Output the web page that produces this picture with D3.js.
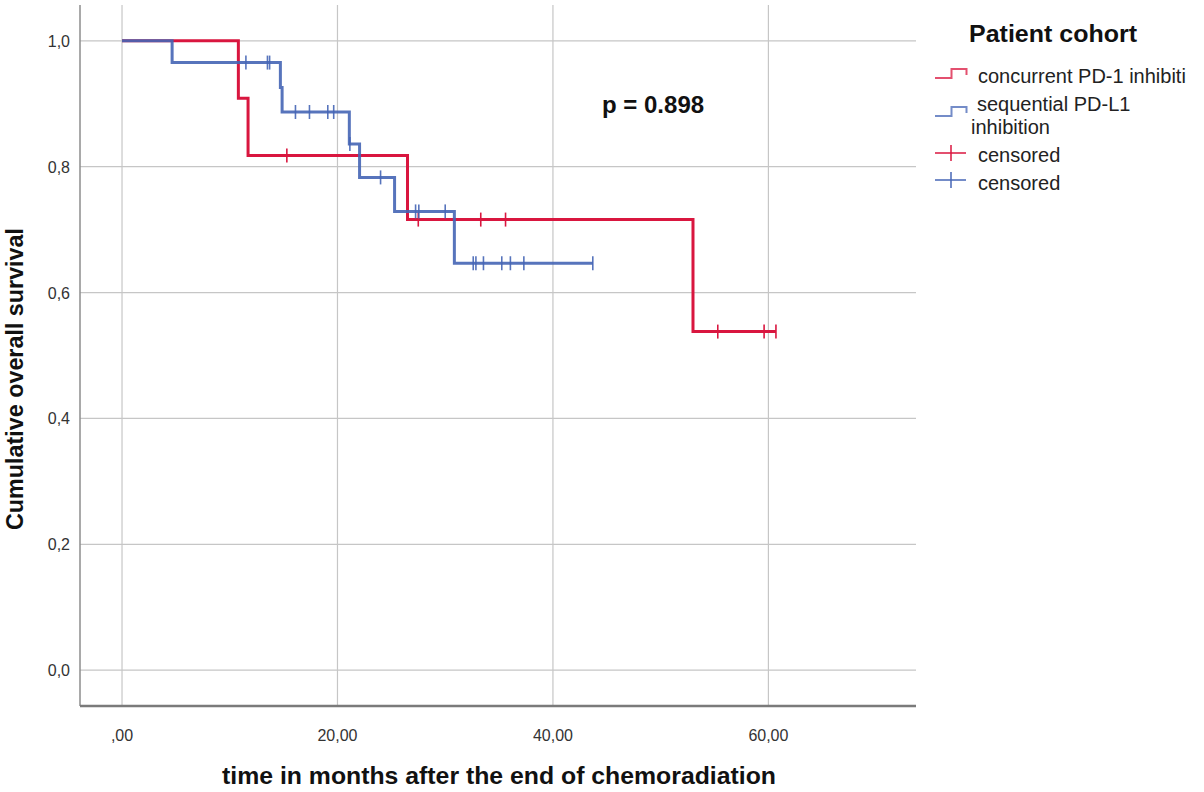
<!DOCTYPE html>
<html>
<head>
<meta charset="utf-8">
<script src="https://cdn.jsdelivr.net/npm/d3@7"></script>
<style>
  body { margin: 0; background: #fff; }
  svg text { font-family: "Liberation Sans", Arial, sans-serif; }
</style>
</head>
<body>
<svg id="km" width="1204" height="792"></svg>
<script>
// Kaplan-Meier steps (months, cumulative survival)
const concurrentTimes = [0, 10.8, 11.7, 26.5, 53.0];
const concurrentSurv  = [1.0, 0.909, 0.818, 0.716, 0.538];
const concurrentCensored = [15.3, 27.5, 33.3, 35.6, 55.3, 59.6, 60.7];

const sequentialTimes = [0, 4.65, 14.7, 14.86, 21.1, 22.05, 25.3, 30.85];
const sequentialSurv  = [1.0, 0.9655, 0.926, 0.887, 0.836, 0.783, 0.729, 0.6466];
const sequentialCensored = [11.5, 13.5, 13.7, 16.1, 17.4, 19.1, 19.65, 21.15, 24.0,
                            27.25, 27.55, 30.0, 32.6, 32.85, 33.55, 35.25, 36.05, 37.3, 43.7];

const xTicks = [0, 20, 40, 60];
const xTickLabels = [",00", "20,00", "40,00", "60,00"];
const yTicks = [0, 0.2, 0.4, 0.6, 0.8, 1.0];
const yTickLabels = ["0,0", "0,2", "0,4", "0,6", "0,8", "1,0"];

const legendLabels = ["concurrent PD-1 inhibiti", "sequential PD-L1", "censored", "censored"];

const red = "#d9163f";
const blue = "#4565b5";

let svg = d3.select("#km");

let plotLeft = 80, plotRight = 916, plotTop = 5, plotBottom = 706;

let x = d3.scaleLinear()
    .domain([-3.9, 73.7])
    .range([plotLeft, plotRight]);

let y = d3.scaleLinear()
    .domain([-0.057, 1.057])
    .range([plotBottom, plotTop]);

// grid
svg.append("g")
    .selectAll("line")
    .data(xTicks)
    .enter().append("line")
    .attr("x1", d => x(d)).attr("x2", d => x(d))
    .attr("y1", plotTop).attr("y2", plotBottom)
    .attr("stroke", "#c6c6c6")
    .attr("stroke-width", 1.2);

svg.append("g")
    .selectAll("line")
    .data(yTicks)
    .enter().append("line")
    .attr("x1", plotLeft).attr("x2", plotRight)
    .attr("y1", d => y(d)).attr("y2", d => y(d))
    .attr("stroke", "#c6c6c6")
    .attr("stroke-width", 1.2);

// axis lines
svg.append("line")
    .attr("x1", plotLeft).attr("x2", plotLeft)
    .attr("y1", plotTop).attr("y2", plotBottom)
    .attr("stroke", "#8c8c8c")
    .attr("stroke-width", 1.5);

svg.append("line")
    .attr("x1", plotLeft).attr("x2", plotRight)
    .attr("y1", plotBottom).attr("y2", plotBottom)
    .attr("stroke", "#7a7a7a")
    .attr("stroke-width", 2.5);

// tick labels
svg.append("g")
    .selectAll("text")
    .data(yTicks)
    .enter().append("text")
    .attr("x", 70)
    .attr("y", d => y(d) + 6)
    .style("text-anchor", "end")
    .style("font-size", "16px")
    .style("fill", "#333")
    .text((d, i) => yTickLabels[i]);

svg.append("g")
    .selectAll("text")
    .data(xTicks)
    .enter().append("text")
    .attr("x", d => x(d))
    .attr("y", 741)
    .style("text-anchor", "middle")
    .style("font-size", "16px")
    .style("fill", "#333")
    .text((d, i) => xTickLabels[i]);

// survival at time t (step function)
function survAt(times, surv, t) {
    let s = surv[0];
    for (let i = 0; i < times.length; i++) {
        if (times[i] <= t) s = surv[i];
    }
    return s;
}

function stepData(times, surv, censored) {
    let pts = times.map((t, i) => ({t: t, s: surv[i]}));
    let end = d3.max(censored.concat(times));
    pts.push({t: end, s: survAt(times, surv, end)});
    return pts;
}

let stepLine = d3.line()
    .x(d => x(d.t))
    .y(d => y(d.s))
    .curve(d3.curveStepAfter);

function drawCurve(times, surv, censored, colour, opacity) {
    svg.append("path")
        .attr("d", stepLine(stepData(times, surv, censored)))
        .attr("fill", "none")
        .attr("stroke", colour)
        .attr("stroke-width", 3)
        .attr("stroke-opacity", opacity);

    svg.append("g")
        .selectAll("line")
        .data(censored)
        .enter().append("line")
        .attr("x1", d => x(d)).attr("x2", d => x(d))
        .attr("y1", d => y(survAt(times, surv, d)) - 7)
        .attr("y2", d => y(survAt(times, surv, d)) + 7)
        .attr("stroke", colour)
        .attr("stroke-width", 1.6)
        .attr("stroke-opacity", opacity);
}

drawCurve(concurrentTimes, concurrentSurv, concurrentCensored, red, 1);
drawCurve(sequentialTimes, sequentialSurv, sequentialCensored, blue, 0.9);

// p value
svg.append("text")
    .attr("x", 602)
    .attr("y", 113)
    .style("font-size", "24px")
    .style("font-weight", "bold")
    .style("fill", "#111")
    .text("p = 0.898");

// axis titles
svg.append("text")
    .attr("x", 222)
    .attr("y", 784)
    .attr("textLength", 554)
    .attr("lengthAdjust", "spacingAndGlyphs")
    .style("font-size", "24px")
    .style("font-weight", "bold")
    .style("fill", "#111")
    .text("time in months after the end of chemoradiation");

svg.append("text")
    .attr("transform", "translate(23,530) rotate(-90)")
    .attr("textLength", 302)
    .attr("lengthAdjust", "spacingAndGlyphs")
    .style("font-size", "24px")
    .style("font-weight", "bold")
    .style("fill", "#111")
    .text("Cumulative overall survival");

// legend
let legend = svg.append("g");

legend.append("text")
    .attr("x", 969)
    .attr("y", 42)
    .attr("textLength", 168)
    .attr("lengthAdjust", "spacingAndGlyphs")
    .style("font-size", "24px")
    .style("font-weight", "bold")
    .style("fill", "#111")
    .text("Patient cohort");

function stepSymbol(yBase, colour) {
    legend.append("path")
        .attr("d", "M935," + yBase + "H951.5V" + (yBase - 9) + "H966.5V" + (yBase - 3))
        .attr("fill", "none")
        .attr("stroke", colour)
        .attr("stroke-width", 2)
        .attr("stroke-opacity", 0.75);
}

function censorSymbol(yMid, colour) {
    legend.append("line")
        .attr("x1", 935).attr("x2", 966)
        .attr("y1", yMid).attr("y2", yMid)
        .attr("stroke", colour).attr("stroke-width", 2).attr("stroke-opacity", 0.75);
    legend.append("line")
        .attr("x1", 951).attr("x2", 951)
        .attr("y1", yMid - 8).attr("y2", yMid + 8)
        .attr("stroke", colour).attr("stroke-width", 2).attr("stroke-opacity", 0.75);
}

stepSymbol(78, red);
stepSymbol(116, blue);
censorSymbol(153, red);
censorSymbol(180, blue);

let legendText = [
    {x: 978, y: 83, t: legendLabels[0]},
    {x: 977, y: 111, t: legendLabels[1]},
    {x: 971, y: 134, t: "inhibition"},
    {x: 978, y: 162, t: legendLabels[2]},
    {x: 978, y: 190, t: legendLabels[3]}
];

legend.selectAll("text.item")
    .data(legendText)
    .enter().append("text")
    .attr("class", "item")
    .attr("x", d => d.x)
    .attr("y", d => d.y)
    .style("font-size", "20px")
    .style("fill", "#222")
    .text(d => d.t);
</script>
</body>
</html>
